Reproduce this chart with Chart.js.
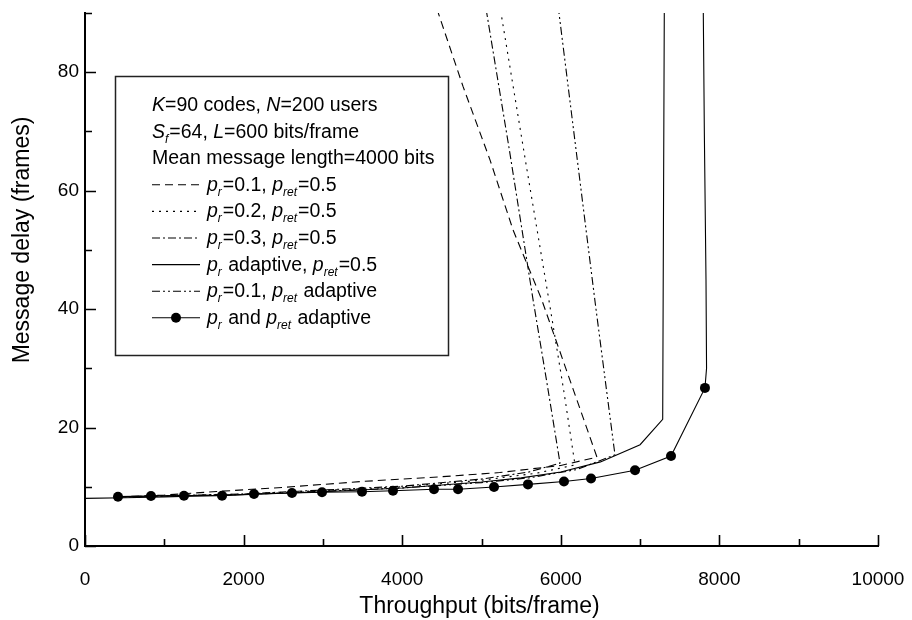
<!DOCTYPE html>
<html><head><meta charset="utf-8">
<script src="https://cdn.jsdelivr.net/npm/chart.js@4/dist/chart.umd.min.js"></script>
<style>html,body{margin:0;padding:0;background:#fff}#wrap{width:912px;height:620px}</style>
</head><body><div id="wrap"><canvas id="c" width="912" height="620"></canvas></div>
<script>
// ---- tick definitions ----
const xMajorTicks = [0, 2000, 4000, 6000, 8000, 10000];
const xMinorTicks = [1000, 3000, 5000, 7000, 9000];
const yMajorTicks = [0, 20, 40, 60, 80];
const yMinorTicks = [10, 30, 50, 70, 90];
const xTitle = 'Throughput (bits/frame)';
const yTitle = 'Message delay (frames)';

// ---- series: p_r=0.1, p_ret=0.5 (dashed) ----
const pr01_x = [420, 1000, 1660, 2500, 3500, 4500, 5230, 6000, 6456, 6202, 5759, 5397, 5107, 4767, 4455];
const pr01_y = [8.3, 8.6, 9.2, 9.9, 10.9, 11.7, 12.4, 13.6, 15.0, 24.7, 41.6, 53.4, 65.2, 77.6, 90];
// ---- p_r=0.2, p_ret=0.5 (dotted) ----
const pr02_x = [420, 2000, 4000, 5000, 5700, 6179, 6040, 5864, 5555, 5246];
const pr02_y = [8.3, 8.75, 10.0, 11.1, 12.3, 13.7, 26, 40.4, 65, 90];
// ---- p_r=0.3, p_ret=0.5 (dash-dot) ----
const pr03_x = [420, 2000, 4000, 5000, 5600, 5990, 5822, 5650, 5350, 5066];
const pr03_y = [8.3, 8.8, 10.1, 11.3, 12.5, 14.0, 27.8, 41.6, 67, 90];
// ---- p_r adaptive, p_ret=0.5 (solid) ----
const prAd_x = [0, 500, 1000, 2000, 3000, 4000, 5000, 5500, 6000, 6500, 7000, 7285, 7293, 7305];
const prAd_y = [8.05, 8.15, 8.3, 8.65, 9.15, 9.8, 10.8, 11.5, 12.5, 14.2, 17.1, 21.4, 50, 90];
// ---- p_r=0.1, p_ret adaptive (dash-dot-dot) ----
const pretAd_x = [420, 2000, 4000, 5000, 5600, 6200, 6683, 6570, 6440, 6210, 5977];
const pretAd_y = [8.3, 8.7, 9.8, 10.7, 11.5, 12.9, 15.4, 27, 40.4, 65, 90];
// ---- p_r and p_ret adaptive (bullets) ----
const bothAd_x = [416, 832, 1248, 1728, 2131, 2610, 2989, 3493, 3884, 4401, 4704, 5158, 5586, 6040, 6381, 6936, 7390, 7818, 7838, 7831, 7810, 7797];
const bothAd_y = [8.33, 8.45, 8.5, 8.5, 8.78, 8.95, 9.07, 9.17, 9.34, 9.58, 9.58, 9.97, 10.4, 10.9, 11.4, 12.8, 15.2, 26.7, 30, 45, 70, 90];
const bothAdMarkerCount = 18;

const FONT = "'Liberation Sans', Arial, Helvetica, sans-serif";
const zip = (xs, ys) => xs.map((x, i) => ({x, y: ys[i]}));

const DASH = { dashed: [8,5], dotted: [2,5], dashdot: [8,3,2,3], dashdotdot: [8,3,2,3,2,3], solid: [] };

function ds(label, xs, ys, dash, extra) {
  return Object.assign({
    label, data: zip(xs, ys), borderColor: '#000', backgroundColor: '#000',
    borderWidth: 1.1, borderDash: dash, pointRadius: 0, tension: 0, fill: false
  }, extra || {});
}

const datasets = [
  ds('pr01', pr01_x, pr01_y, DASH.dashed),
  ds('pr02', pr02_x, pr02_y, DASH.dotted),
  ds('pr03', pr03_x, pr03_y, DASH.dashdot),
  ds('prAd', prAd_x, prAd_y, DASH.solid),
  ds('pretAd', pretAd_x, pretAd_y, DASH.dashdotdot),
  ds('bothAd', bothAd_x, bothAd_y, DASH.solid, {
    pointRadius: c => c.dataIndex < bothAdMarkerCount ? 5 : 0,
    pointBorderWidth: 0, pointBackgroundColor: '#000', pointStyle: 'circle'
  })
];

// legend entries: rich text parts
const P = (s) => ({t: s, it: true});
const SUB = (s) => ({t: s, it: true, sub: true});
const T = (s) => ({t: s});
const legendHeader = [
  [P('K'), T('=90 codes, '), P('N'), T('=200 users')],
  [P('S'), SUB('f'), T('=64, '), P('L'), T('=600 bits/frame')],
  [T('Mean message length=4000 bits')]
];
const legendEntries = [
  {dash: DASH.dashed, parts: [P('p'), SUB('r'), T('=0.1, '), P('p'), SUB('ret'), T('=0.5')]},
  {dash: DASH.dotted, parts: [P('p'), SUB('r'), T('=0.2, '), P('p'), SUB('ret'), T('=0.5')]},
  {dash: DASH.dashdot, parts: [P('p'), SUB('r'), T('=0.3, '), P('p'), SUB('ret'), T('=0.5')]},
  {dash: DASH.solid, parts: [P('p'), SUB('r'), T(' adaptive, '), P('p'), SUB('ret'), T('=0.5')]},
  {dash: DASH.dashdotdot, parts: [P('p'), SUB('r'), T('=0.1, '), P('p'), SUB('ret'), T(' adaptive')]},
  {dash: DASH.solid, marker: true, parts: [P('p'), SUB('r'), T(' and '), P('p'), SUB('ret'), T(' adaptive')]}
];

function drawRich(ctx, parts, x, y, size) {
  ctx.textBaseline = 'alphabetic';
  ctx.textAlign = 'left';
  for (const p of parts) {
    const fs = p.sub ? Math.round(size * 0.62) : size;
    ctx.font = (p.it ? 'italic ' : '') + fs + 'px ' + FONT;
    const dy = p.sub ? 5 : 0;
    ctx.fillText(p.t, x, y + dy);
    x += ctx.measureText(p.t).width + (p.sub ? 1 : 0);
  }
}

const decorPlugin = {
  id: 'decor',
  afterDraw(chart) {
    const ctx = chart.ctx;
    const xs = chart.scales.x, ys = chart.scales.y;
    const x0 = xs.getPixelForValue(0), y0 = ys.getPixelForValue(0);
    ctx.save();
    ctx.strokeStyle = '#000';
    ctx.lineWidth = 1.6;
    ctx.setLineDash([]);
    ctx.beginPath();
    for (const v of xMajorTicks) { const p = Math.round(xs.getPixelForValue(v)) + 0.5; ctx.moveTo(p, y0); ctx.lineTo(p, y0 - 11); }
    for (const v of xMinorTicks) { const p = Math.round(xs.getPixelForValue(v)) + 0.5; ctx.moveTo(p, y0); ctx.lineTo(p, y0 - 7); }
    for (const v of yMajorTicks) { const p = Math.round(ys.getPixelForValue(v)) + 0.5; ctx.moveTo(x0, p); ctx.lineTo(x0 + 11, p); }
    for (const v of yMinorTicks) { const p = Math.round(ys.getPixelForValue(v)) + 0.5; ctx.moveTo(x0, p); ctx.lineTo(x0 + 7, p); }
    ctx.stroke();

    // axis titles
    ctx.fillStyle = '#000';
    ctx.font = '23px ' + FONT;
    ctx.textAlign = 'center';
    ctx.textBaseline = 'middle';
    ctx.fillText(xTitle, (xs.left + xs.right) / 2 - 2, 607);
    ctx.save();
    ctx.translate(23, 240);
    ctx.rotate(-Math.PI / 2);
    ctx.fillText(yTitle, 0, 0);
    ctx.restore();

    // legend box
    const bx = 115, by = 76, bw = 333, bh = 279;
    ctx.fillStyle = '#fff';
    ctx.fillRect(bx, by, bw, bh);
    ctx.strokeStyle = '#222';
    ctx.lineWidth = 1.5;
    ctx.strokeRect(bx + 0.5, by + 0.5, bw, bh);
    ctx.fillStyle = '#000';
    const size = 19.5;
    let y = 111;
    for (const h of legendHeader) { drawRich(ctx, h, 152, y, size); y += 26.6; }
    for (const e of legendEntries) {
      const cy = y - 6;
      ctx.strokeStyle = '#000';
      ctx.lineWidth = 1.1;
      ctx.setLineDash(e.dash);
      ctx.beginPath(); ctx.moveTo(152, cy); ctx.lineTo(200, cy); ctx.stroke();
      ctx.setLineDash([]);
      if (e.marker) { ctx.beginPath(); ctx.arc(176, cy, 5, 0, Math.PI * 2); ctx.fill(); }
      drawRich(ctx, e.parts, 207, y, size);
      y += 26.6;
    }
    ctx.restore();
  }
};

new Chart(document.getElementById('c'), {
  type: 'line',
  data: { datasets },
  plugins: [decorPlugin],
  options: {
    responsive: false, animation: false, devicePixelRatio: 1,
    layout: { padding: { left: 0, right: 34, top: 13, bottom: 0 } },
    plugins: { legend: { display: false }, tooltip: { enabled: false } },
    elements: { line: { borderCapStyle: 'butt' } },
    scales: {
      x: {
        type: 'linear', min: 0, max: 10000,
        afterBuildTicks: s => { s.ticks = xMajorTicks.map(v => ({value: v})); },
        afterFit: s => { s.height = 74; s.paddingLeft = 0; s.paddingRight = 0; },
        grid: { display: false, drawTicks: false },
        border: { display: true, color: '#000', width: 2 },
        ticks: { color: '#000', padding: 22, maxRotation: 0, autoSkip: false, callback: v => String(v), font: { family: FONT, size: 19 } },
        title: { display: false }
      },
      y: {
        type: 'linear', min: 0, max: 90,
        afterBuildTicks: s => { s.ticks = yMajorTicks.map(v => ({value: v})); },
        afterFit: s => { s.width = 85; s.paddingTop = 0; s.paddingBottom = 0; },
        grid: { display: false, drawTicks: false },
        border: { display: true, color: '#000', width: 2 },
        ticks: { color: '#000', padding: 6, callback: v => String(v), font: { family: FONT, size: 19 } },
        title: { display: false }
      }
    }
  }
});
</script></body></html>
